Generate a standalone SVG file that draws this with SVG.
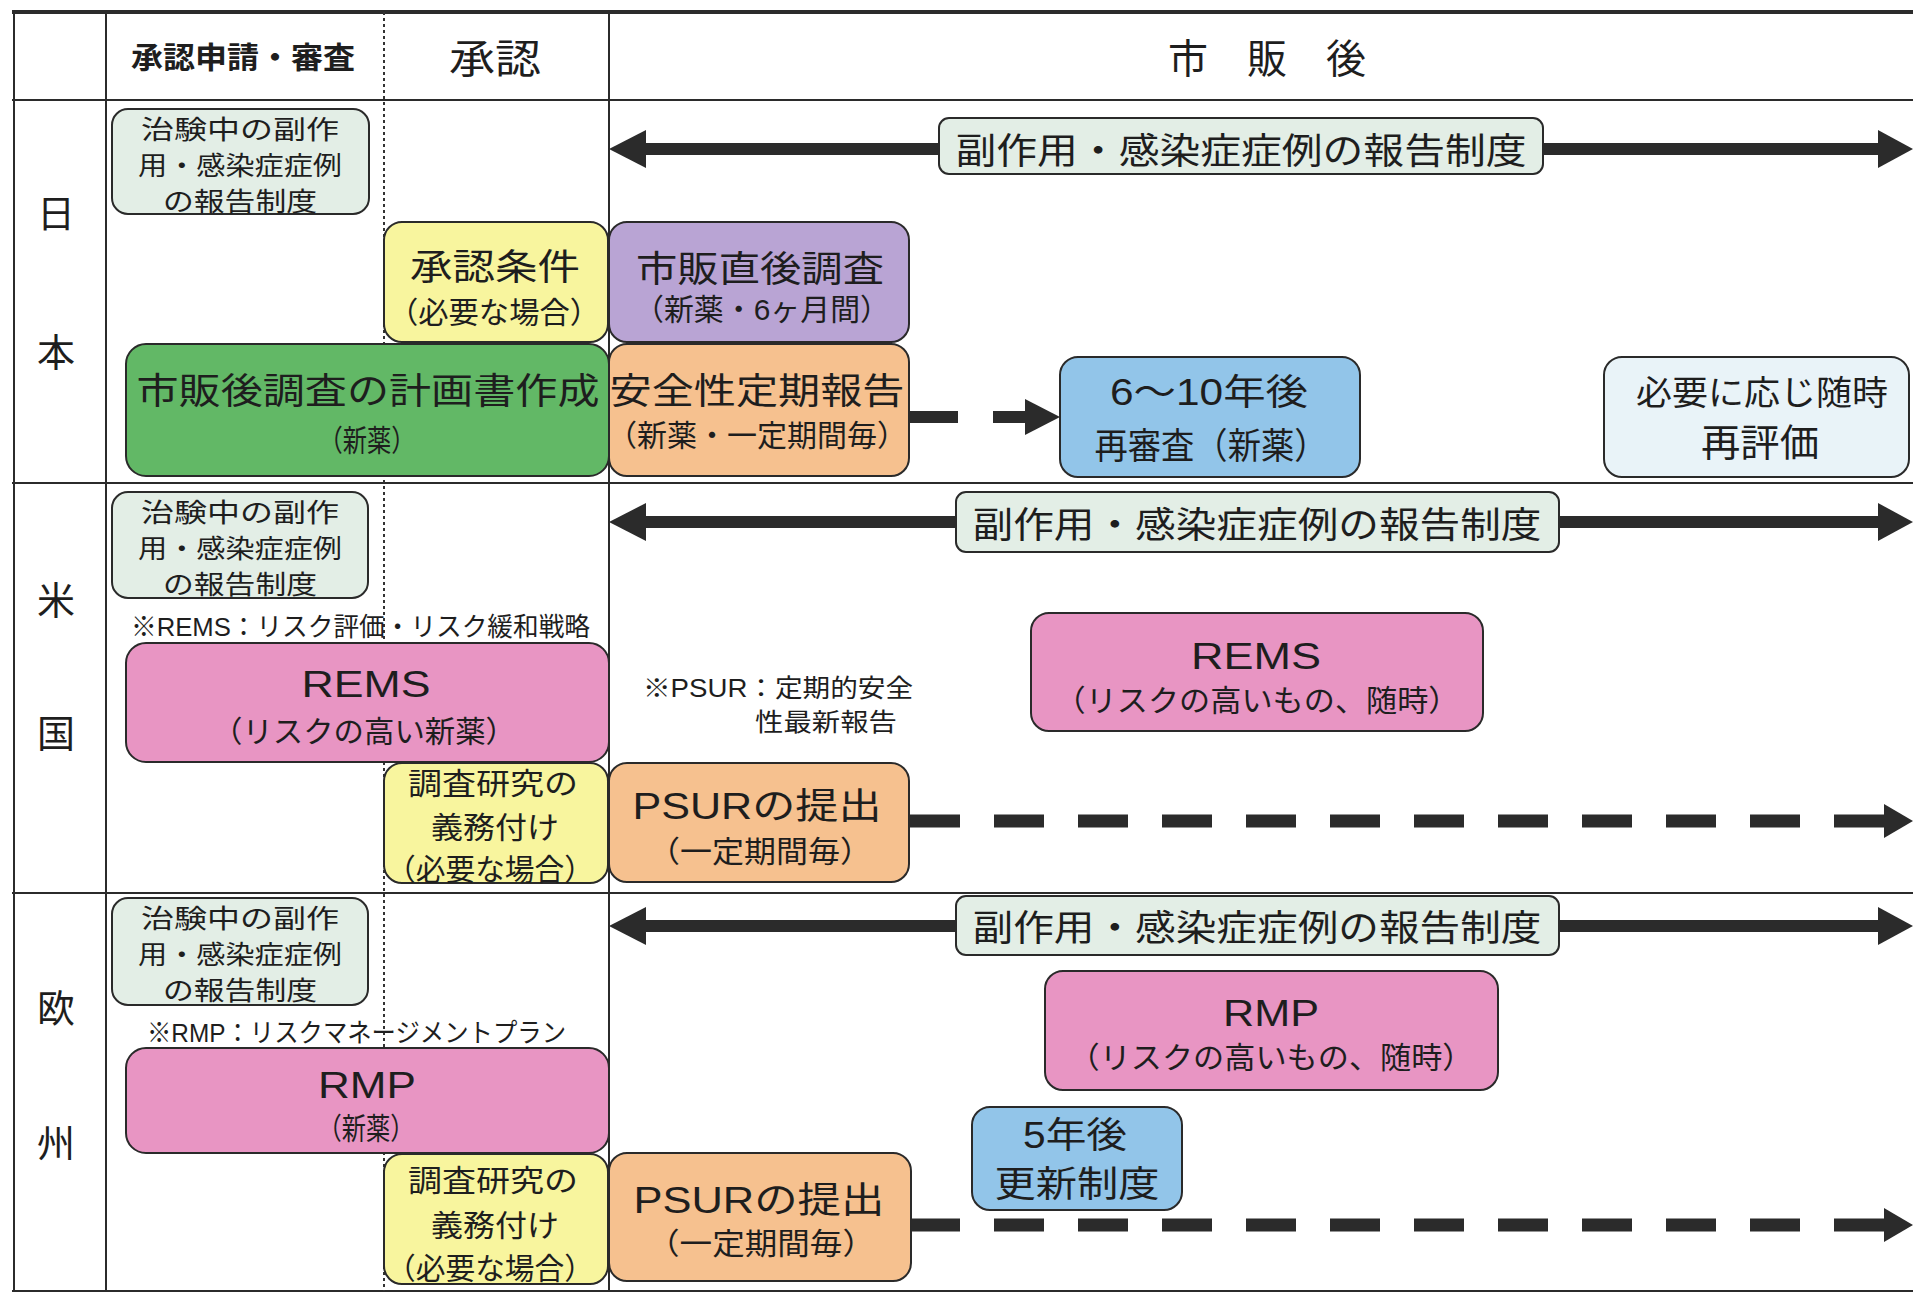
<svg xmlns="http://www.w3.org/2000/svg" width="1913" height="1293" viewBox="0 0 1913 1293">
<style>
.grid{stroke:#2b2b2b;stroke-width:2;fill:none}
.dot{stroke:#333;stroke-width:2;stroke-dasharray:3 3;fill:none}
.box{stroke:#2a2a2a;stroke-width:2}
.gray{fill:#e3eee6}
.yel{fill:#f8f59e}
.pur{fill:#b9a4d4}
.grn{fill:#62b866}
.org{fill:#f6c18f}
.blu{fill:#92c5e9}
.lbl{fill:#e9f3f8}
.pnk{fill:#e895c3}
text{font-family:"Liberation Sans","Noto Sans CJK JP",sans-serif;fill:#1e1e1e;text-anchor:middle}
.s26{font-size:26px}
.s30{font-size:30px}
.s36{font-size:36px}
.s40{font-size:40px}
.l{text-anchor:start}
.shaft{fill:#2b2b2b}
</style>
<rect width="1913" height="1293" fill="#ffffff"/>
<g id="grid">
<line class="grid" x1="12" y1="12" x2="1913" y2="12" style="stroke-width:4"/>
<line class="grid" x1="12" y1="100" x2="1913" y2="100"/>
<line class="grid" x1="12" y1="483" x2="1913" y2="483"/>
<line class="grid" x1="12" y1="893" x2="1913" y2="893"/>
<line class="grid" x1="12" y1="1291" x2="1913" y2="1291"/>
<line class="grid" x1="14" y1="12" x2="14" y2="1291"/>
<line class="grid" x1="106" y1="12" x2="106" y2="1291"/>
<line class="grid" x1="609" y1="12" x2="609" y2="1291"/>
<line class="dot" x1="384" y1="12" x2="384" y2="1291"/>
</g>
<g id="headers">
<text x="243" y="68" style="font-size:30px;font-weight:bold" textLength="224" lengthAdjust="spacingAndGlyphs">承認申請・審査</text>
<text class="s40" x="495" y="73" textLength="92" lengthAdjust="spacingAndGlyphs">承認</text>
<text class="s40" x="1188" y="73">市</text>
<text class="s40" x="1267" y="73">販</text>
<text class="s40" x="1346" y="73">後</text>
<text style="font-size:38px" x="56" y="227">日</text>
<text style="font-size:38px" x="56" y="366">本</text>
<text style="font-size:38px" x="56" y="614">米</text>
<text style="font-size:38px" x="56" y="747">国</text>
<text style="font-size:38px" x="56" y="1022">欧</text>
<text style="font-size:38px" x="56" y="1157">州</text>
</g>
<g id="connectors">
<rect class="shaft" x="640" y="143" width="1245" height="12"/>
<polygon class="shaft" points="609,149 646,130 646,168"/>
<polygon class="shaft" points="1913,149 1878,130 1878,168"/>
<rect class="shaft" x="909" y="411" width="49" height="12"/>
<rect class="shaft" x="993" y="411" width="34" height="12"/>
<polygon class="shaft" points="1025,399 1060,417 1025,435"/>
<rect class="shaft" x="640" y="516" width="1245" height="12"/>
<polygon class="shaft" points="609,522 646,503 646,541"/>
<polygon class="shaft" points="1913,522 1878,503 1878,541"/>
<line x1="910" y1="821" x2="1884" y2="821" style="stroke:#2b2b2b;stroke-width:13;stroke-dasharray:50 34"/>
<polygon class="shaft" points="1884,804 1913,821 1884,838"/>
<rect class="shaft" x="640" y="920" width="1245" height="12"/>
<polygon class="shaft" points="609,926 646,907 646,945"/>
<polygon class="shaft" points="1913,926 1878,907 1878,945"/>
<line x1="910" y1="1225" x2="1884" y2="1225" style="stroke:#2b2b2b;stroke-width:13;stroke-dasharray:50 34"/>
<polygon class="shaft" points="1884,1208 1913,1225 1884,1242"/>
</g>
<g id="jp-trial">
<rect class="box gray" x="112" y="109" width="257" height="105" rx="16"/>
<text class="s26" x="240" y="139" textLength="198" lengthAdjust="spacingAndGlyphs">治験中の副作</text>
<text class="s26" x="240" y="175" textLength="204" lengthAdjust="spacingAndGlyphs">用・感染症症例</text>
<text class="s26" x="240" y="211" textLength="154" lengthAdjust="spacingAndGlyphs">の報告制度</text>
</g>
<g id="jp-condition">
<rect class="box yel" x="384" y="222" width="224" height="120" rx="18"/>
<text class="s36" x="495" y="280" textLength="170" lengthAdjust="spacingAndGlyphs">承認条件</text>
<text class="s30" x="494" y="323" textLength="212" lengthAdjust="spacingAndGlyphs">（必要な場合）</text>
</g>
<g id="jp-early">
<rect class="box pur" x="609" y="222" width="300" height="120" rx="18"/>
<text class="s36" x="760" y="282" textLength="248" lengthAdjust="spacingAndGlyphs">市販直後調査</text>
<text class="s30" x="762" y="320" textLength="256" lengthAdjust="spacingAndGlyphs">（新薬・6ヶ月間）</text>
</g>
<g id="jp-plan">
<rect class="box grn" x="126" y="344" width="483" height="132" rx="20"/>
<text class="s36" x="368" y="404" textLength="463" lengthAdjust="spacingAndGlyphs">市販後調査の計画書作成</text>
<text class="s30" x="367" y="451" textLength="97" lengthAdjust="spacingAndGlyphs">（新薬）</text>
</g>
<g id="jp-periodic">
<rect class="box org" x="609" y="344" width="300" height="132" rx="18"/>
<text class="s36" x="757" y="404" textLength="295" lengthAdjust="spacingAndGlyphs">安全性定期報告</text>
<text class="s30" x="757" y="446" textLength="300" lengthAdjust="spacingAndGlyphs">（新薬・一定期間毎）</text>
</g>
<g id="jp-reexam">
<rect class="box blu" x="1060" y="357" width="300" height="120" rx="18"/>
<text class="s36" x="1209" y="405" textLength="198" lengthAdjust="spacingAndGlyphs">6〜10年後</text>
<text class="s36" x="1211" y="459" textLength="233" lengthAdjust="spacingAndGlyphs">再審査（新薬）</text>
</g>
<g id="jp-reeval">
<rect class="box lbl" x="1604" y="357" width="305" height="120" rx="18"/>
<text style="font-size:34px" x="1762" y="405" textLength="252" lengthAdjust="spacingAndGlyphs">必要に応じ随時</text>
<text style="font-size:38px" x="1760" y="456" textLength="118" lengthAdjust="spacingAndGlyphs">再評価</text>
</g>
<g id="jp-report">
<rect class="box gray" x="939" y="118" width="604" height="56" rx="10"/>
<text class="s36" x="1241" y="164" textLength="571" lengthAdjust="spacingAndGlyphs">副作用・感染症症例の報告制度</text>
</g>
<g id="us-trial">
<rect class="box gray" x="112" y="492" width="256" height="106" rx="16"/>
<text class="s26" x="240" y="522" textLength="198" lengthAdjust="spacingAndGlyphs">治験中の副作</text>
<text class="s26" x="240" y="558" textLength="204" lengthAdjust="spacingAndGlyphs">用・感染症症例</text>
<text class="s26" x="240" y="594" textLength="154" lengthAdjust="spacingAndGlyphs">の報告制度</text>
</g>
<g id="us-rems-note">
<text class="s26 l" x="131" y="636" textLength="459" lengthAdjust="spacingAndGlyphs">※REMS：リスク評価・リスク緩和戦略</text>
</g>
<g id="us-rems">
<rect class="box pnk" x="126" y="643" width="483" height="119" rx="20"/>
<text class="s36" x="366" y="697" textLength="129" lengthAdjust="spacingAndGlyphs">REMS</text>
<text class="s30" x="364" y="742" textLength="304" lengthAdjust="spacingAndGlyphs">（リスクの高い新薬）</text>
</g>
<g id="us-study">
<rect class="box yel" x="384" y="763" width="224" height="120" rx="18"/>
<text class="s30" x="493" y="794" textLength="170" lengthAdjust="spacingAndGlyphs">調査研究の</text>
<text class="s30" x="495" y="838" textLength="128" lengthAdjust="spacingAndGlyphs">義務付け</text>
<text class="s30" x="490" y="880" textLength="208" lengthAdjust="spacingAndGlyphs">（必要な場合）</text>
</g>
<g id="us-psur">
<rect class="box org" x="609" y="763" width="300" height="119" rx="18"/>
<text class="s36" x="757" y="819" textLength="249" lengthAdjust="spacingAndGlyphs">PSURの提出</text>
<text class="s30" x="760" y="862" textLength="224" lengthAdjust="spacingAndGlyphs">（一定期間毎）</text>
</g>
<g id="us-psur-note">
<text class="l" style="font-size:25px" x="643" y="697" textLength="270" lengthAdjust="spacingAndGlyphs">※PSUR：定期的安全</text>
<text class="l" style="font-size:25px" x="755" y="731" textLength="142" lengthAdjust="spacingAndGlyphs">性最新報告</text>
</g>
<g id="us-rems-post">
<rect class="box pnk" x="1031" y="613" width="452" height="118" rx="18"/>
<text class="s36" x="1256" y="669" textLength="130" lengthAdjust="spacingAndGlyphs">REMS</text>
<text class="s30" x="1257" y="711" textLength="405" lengthAdjust="spacingAndGlyphs">（リスクの高いもの、随時）</text>
</g>
<g id="us-report">
<rect class="box gray" x="956" y="492" width="603" height="60" rx="10"/>
<text class="s36" x="1257" y="538" textLength="569" lengthAdjust="spacingAndGlyphs">副作用・感染症症例の報告制度</text>
</g>
<g id="eu-trial">
<rect class="box gray" x="112" y="898" width="256" height="107" rx="16"/>
<text class="s26" x="240" y="928" textLength="198" lengthAdjust="spacingAndGlyphs">治験中の副作</text>
<text class="s26" x="240" y="964" textLength="204" lengthAdjust="spacingAndGlyphs">用・感染症症例</text>
<text class="s26" x="240" y="1000" textLength="154" lengthAdjust="spacingAndGlyphs">の報告制度</text>
</g>
<g id="eu-rmp-note">
<text class="s26 l" x="147" y="1042" textLength="419" lengthAdjust="spacingAndGlyphs">※RMP：リスクマネージメントプラン</text>
</g>
<g id="eu-rmp">
<rect class="box pnk" x="126" y="1048" width="483" height="105" rx="20"/>
<text class="s36" x="367" y="1098" textLength="98" lengthAdjust="spacingAndGlyphs">RMP</text>
<text class="s30" x="366" y="1139" textLength="97" lengthAdjust="spacingAndGlyphs">（新薬）</text>
</g>
<g id="eu-study">
<rect class="box yel" x="384" y="1154" width="224" height="130" rx="18"/>
<text class="s30" x="493" y="1191" textLength="170" lengthAdjust="spacingAndGlyphs">調査研究の</text>
<text class="s30" x="495" y="1236" textLength="128" lengthAdjust="spacingAndGlyphs">義務付け</text>
<text class="s30" x="490" y="1279" textLength="208" lengthAdjust="spacingAndGlyphs">（必要な場合）</text>
</g>
<g id="eu-psur">
<rect class="box org" x="609" y="1153" width="302" height="128" rx="18"/>
<text class="s36" x="759" y="1213" textLength="251" lengthAdjust="spacingAndGlyphs">PSURの提出</text>
<text class="s30" x="761" y="1254" textLength="228" lengthAdjust="spacingAndGlyphs">（一定期間毎）</text>
</g>
<g id="eu-rmp-post">
<rect class="box pnk" x="1045" y="971" width="453" height="119" rx="18"/>
<text class="s36" x="1271" y="1026" textLength="96" lengthAdjust="spacingAndGlyphs">RMP</text>
<text class="s30" x="1271" y="1068" textLength="405" lengthAdjust="spacingAndGlyphs">（リスクの高いもの、随時）</text>
</g>
<g id="eu-renewal">
<rect class="box blu" x="972" y="1107" width="210" height="103" rx="18"/>
<text class="s36" x="1075" y="1148" textLength="104" lengthAdjust="spacingAndGlyphs">5年後</text>
<text class="s36" x="1077" y="1197" textLength="165" lengthAdjust="spacingAndGlyphs">更新制度</text>
</g>
<g id="eu-report">
<rect class="box gray" x="956" y="896" width="603" height="59" rx="10"/>
<text class="s36" x="1257" y="941" textLength="569" lengthAdjust="spacingAndGlyphs">副作用・感染症症例の報告制度</text>
</g>
</svg>
